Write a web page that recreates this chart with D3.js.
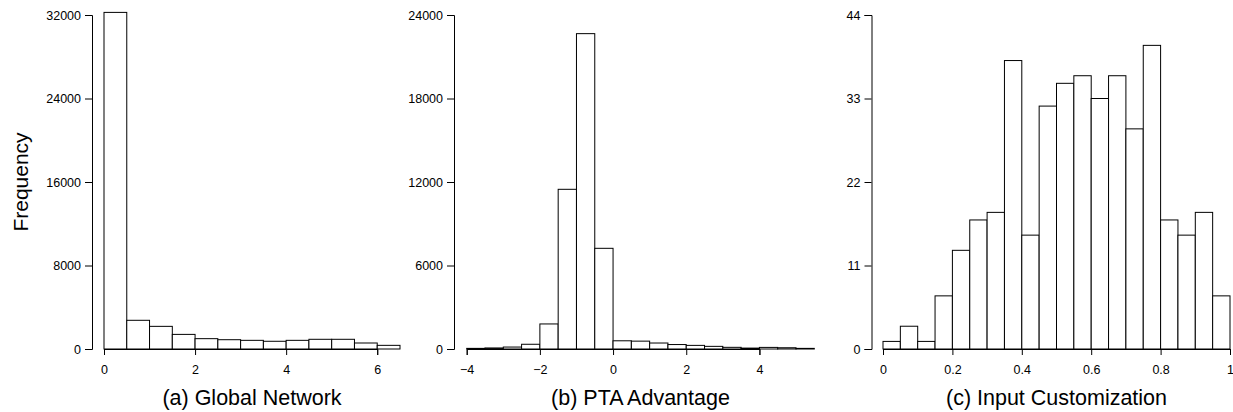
<!DOCTYPE html>
<html>
<head>
<meta charset="utf-8">
<script src="https://cdn.jsdelivr.net/npm/d3@7"></script>
<style>
  body { margin: 0; background: #fff; }
  svg { font-family: "Liberation Sans", Arial, Helvetica, sans-serif; }
  .axis path, .axis line { stroke: #000; stroke-width: 1; }
  .axis text { font-size: 12.5px; fill: #000; }
</style>
</head>
<body>
<div class="graph"></div>
<script>
// (a) Global Network
var edgesA = [0, 0.5, 1, 1.5, 2, 2.5, 3, 3.5, 4, 4.5, 5, 5.5, 6, 6.5];
var countsA = [32250, 2750, 2170, 1400, 990, 890, 830, 740, 830, 930, 930, 575, 350];
var xTicksA = [0, 2, 4, 6];
var yTicksA = [0, 8000, 16000, 24000, 32000];

// (b) PTA Advantage
var edgesB = [-4, -3.5, -3, -2.5, -2, -1.5, -1, -0.5, 0, 0.5, 1, 1.5, 2, 2.5, 3, 3.5, 4, 4.5, 5, 5.5];
var countsB = [45, 75, 140, 340, 1800, 11475, 22660, 7235, 590, 565, 430, 320, 260, 190, 120, 65, 115, 90, 45];
var xTicksB = [-4, -2, 0, 2, 4];
var yTicksB = [0, 6000, 12000, 18000, 24000];

// (c) Input Customization
var edgesC = [0, 0.05, 0.1, 0.15, 0.2, 0.25, 0.3, 0.35, 0.4, 0.45, 0.5, 0.55, 0.6, 0.65, 0.7, 0.75, 0.8, 0.85, 0.9, 0.95, 1];
var countsC = [1, 3, 1, 7, 13, 17, 18, 38, 15, 32, 35, 36, 33, 36, 29, 40, 17, 15, 18, 7];
var xTicksC = [0, 0.2, 0.4, 0.6, 0.8, 1];
var yTicksC = [0, 11, 22, 33, 44];

var titles = ["(a) Global Network", "(b) PTA Advantage", "(c) Input Customization"];

var width = 1233, height = 412;
var yTop = 15, yBase = 349;

var svg = d3.select('.graph').append('svg')
    .attr('width', width)
    .attr('height', height);

var panels = [
    { edges: edgesA, counts: countsA, xt: xTicksA, yt: yTicksA, title: titles[0],
      yAxisX: 92, x0: 104, x1: 400 },
    { edges: edgesB, counts: countsB, xt: xTicksB, yt: yTicksB, title: titles[1],
      yAxisX: 454, x0: 466.7, x1: 814.3 },
    { edges: edgesC, counts: countsC, xt: xTicksC, yt: yTicksC, title: titles[2],
      yAxisX: 871.5, x0: 883, x1: 1230 }
];

panels.forEach(function (p) {
    var x = d3.scaleLinear()
        .domain([p.edges[0], p.edges[p.edges.length - 1]])
        .range([p.x0, p.x1]);

    var y = d3.scaleLinear()
        .domain([0, p.yt[p.yt.length - 1]])
        .range([yBase, yTop]);

    var g = svg.append('g');

    // bars
    g.selectAll('rect')
        .data(p.counts)
        .enter().append('rect')
        .attr('x', function (d, i) { return x(p.edges[i]); })
        .attr('y', function (d) { return y(d); })
        .attr('width', function (d, i) { return x(p.edges[i + 1]) - x(p.edges[i]); })
        .attr('height', function (d) { return yBase - y(d); })
        .attr('fill', '#fff')
        .attr('stroke', '#000')
        .attr('stroke-width', 1);

    // x axis, from first to last tick
    var xa = d3.scaleLinear()
        .domain([p.xt[0], p.xt[p.xt.length - 1]])
        .range([x(p.xt[0]), x(p.xt[p.xt.length - 1])]);
    g.append('g')
        .attr('class', 'axis')
        .attr('transform', 'translate(0,' + yBase + ')')
        .call(d3.axisBottom(xa).tickValues(p.xt).tickSizeOuter(0).tickSize(6).tickPadding(10)
            .tickFormat(function (d) { return d3.format('')(d); }));

    // y axis
    g.append('g')
        .attr('class', 'axis')
        .attr('transform', 'translate(' + p.yAxisX + ',0)')
        .call(d3.axisLeft(y).tickValues(p.yt).tickSizeOuter(0).tickSize(7).tickPadding(4)
            .tickFormat(d3.format('d')));

    // title under panel
    svg.append('text')
        .attr('x', (p.x0 + p.x1) / 2)
        .attr('y', 405)
        .attr('text-anchor', 'middle')
        .style('font-size', '21.5px')
        .text(p.title);
});

svg.append('text')
    .attr('transform', 'translate(28,182) rotate(-90)')
    .attr('text-anchor', 'middle')
    .style('font-size', '21px')
    .text('Frequency');
</script>
</body>
</html>
